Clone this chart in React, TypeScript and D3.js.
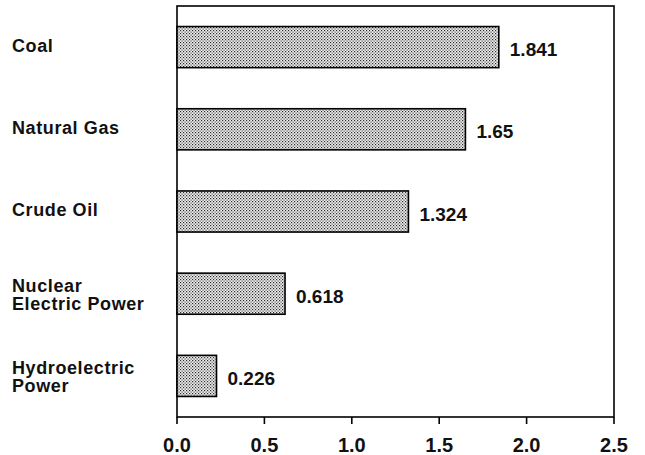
import React from "react";
import * as d3 from "d3";

const categories: string[][] = [
  ["Coal"],
  ["Natural Gas"],
  ["Crude Oil"],
  ["Nuclear", "Electric Power"],
  ["Hydroelectric", "Power"],
];
const values: number[] = [1.841, 1.65, 1.324, 0.618, 0.226];
const valueLabels: string[] = ["1.841", "1.65", "1.324", "0.618", "0.226"];
const xTicks: number[] = [0, 0.5, 1.0, 1.5, 2.0, 2.5];

const W = 645;
const H = 455;
const left = 177;
const right = 614;
const top = 6;
const bottom = 417;
const font = "'Liberation Sans', Arial, Helvetica, sans-serif";

export default function App() {
  const x = d3.scaleLinear().domain([0, 2.5]).range([left, right]);
  const y = d3
    .scaleBand<number>()
    .domain(d3.range(categories.length))
    .range([top, bottom])
    .paddingInner(0.5)
    .paddingOuter(0.25);

  return (
    <svg
      width={W}
      height={H}
      style={{ position: "absolute", left: 0, top: 0, background: "#fff" }}
    >
      <defs>
        <pattern id="dots" width="3" height="3" patternUnits="userSpaceOnUse">
          <rect width="3" height="3" fill="#eeeeee" />
          <rect x="0" y="0" width="1.2" height="1.2" fill="#2a2a2a" />
          <rect x="1.5" y="1.5" width="1.2" height="1.2" fill="#4a4a4a" />
        </pattern>
      </defs>
      {/* frame */}
      <rect
        x={left}
        y={top}
        width={right - left}
        height={bottom - top}
        fill="none"
        stroke="#000"
        strokeWidth={1.6}
      />
      {/* bars */}
      {values.map((v, i) => (
        <g key={i}>
          <rect
            x={x(0)}
            y={y(i)!}
            width={x(v) - x(0)}
            height={y.bandwidth()}
            fill="url(#dots)"
            stroke="#000"
            strokeWidth={1.6}
          />
          <text
            x={x(v) + 11}
            y={y(i)! + y.bandwidth() / 2 + 9}
            fontFamily={font}
            fontSize={19}
            fontWeight="bold"
            fill="#111"
          >
            {valueLabels[i]}
          </text>
        </g>
      ))}
      {/* category labels */}
      {categories.map((lines, i) => {
        const c = y(i)! + y.bandwidth() / 2;
        const first = lines.length === 1 ? c + 4.5 : c - 2;
        return (
          <text
            key={i}
            x={12}
            fontFamily={font}
            fontSize={18}
            fontWeight="bold"
            letterSpacing={0.6}
            fill="#111"
          >
            {lines.map((l, j) => (
              <tspan key={j} x={12} y={first + j * 18.5}>
                {l}
              </tspan>
            ))}
          </text>
        );
      })}
      {/* x ticks */}
      {xTicks.map((t, i) => (
        <g key={i}>
          <line
            x1={x(t)}
            x2={x(t)}
            y1={bottom}
            y2={bottom + 7}
            stroke="#000"
            strokeWidth={1.6}
          />
          <text
            x={x(t)}
            y={452}
            textAnchor="middle"
            fontFamily={font}
            fontSize={20}
            fontWeight="bold"
            fill="#111"
          >
            {d3.format(".1f")(t)}
          </text>
        </g>
      ))}
    </svg>
  );
}
